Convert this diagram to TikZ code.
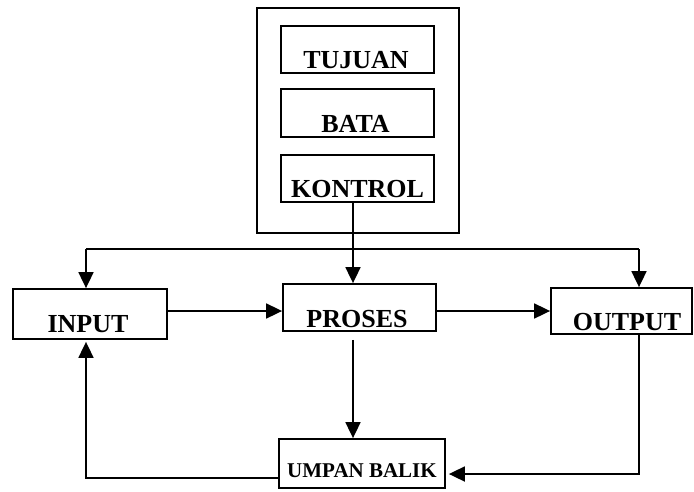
\documentclass[tikz,border=0pt]{standalone}
\usepackage{fontspec}
\setmainfont{Liberation Serif}
\usetikzlibrary{arrows.meta,calc}
\begin{document}
\begin{tikzpicture}[x=1pt,y=-1pt,
  box/.style={draw,line width=1.8pt,inner sep=0pt,rectangle},
  lbl/.style={font=\fontsize{26}{30}\selectfont\bfseries,inner sep=0pt,anchor=base},
  lblsmall/.style={font=\fontsize{21}{25}\selectfont\bfseries,inner sep=0pt,anchor=base},
  con/.style={line width=1.8pt},
  arr/.style={line width=1.8pt,-{Triangle[length=16pt,width=15pt]}}]
\useasboundingbox (0,0) rectangle (694,491);
% boxes
\node[box,minimum width=202pt,minimum height=225pt] (outer) at (358,120.5) {};
\node[box,minimum width=153pt,minimum height=47pt] (tuj) at (357.5,49.5) {};
\node[box,minimum width=153pt,minimum height=48pt] (bat) at (357.5,113) {};
\node[box,minimum width=153pt,minimum height=47pt] (kon) at (357.5,178.5) {};
\node[box,minimum width=154pt,minimum height=50pt] (inp) at (90,314) {};
\node[box,minimum width=153pt,minimum height=47pt] (pro) at (359.5,307.5) {};
\node[box,minimum width=141pt,minimum height=46pt] (out) at (621.5,311) {};
\node[box,minimum width=166pt,minimum height=49pt] (umb) at (362,463.5) {};
% labels
\node[lbl] (tTuj) at (356,68) {TUJUAN};
\node[lbl] (tBat) at (355.5,132) {BATA};
\node[lbl] (tKon) at (357.5,197) {KONTROL};
\node[lbl] (tInp) at (88,332) {INPUT};
\node[lbl] (tPro) at (357,327) {PROSES};
\node[lbl] (tOut) at (627,330) {OUTPUT};
\node[lblsmall] (tUmb) at (362,477) {UMPAN BALIK};
% helper coordinates
\coordinate (cx) at (353,249);
\coordinate (busL) at (86,249);
\coordinate (busR) at (639,249);
\coordinate (midy) at (0,311);
\coordinate (rety) at (0,474);
\coordinate (fby) at (0,478);
% connectors
\draw[arr] (kon.south -| cx) -- (pro.north -| cx);
\draw[con] (busL) -- (busR);
\draw[arr] (busL) -- (inp.north -| busL);
\draw[arr] (busR) -- (out.north -| busR);
\draw[arr] (inp.east |- midy) -- (pro.west |- midy);
\draw[arr] (pro.east |- midy) -- (out.west |- midy);
\draw[arr] ([yshift=-8pt]pro.south -| cx) -- (umb.north -| cx);
\draw[arr] (out.south -| busR) |- ([xshift=3pt]umb.east |- rety);
\draw[arr] (umb.west |- fby) -| ([yshift=-2pt]inp.south -| busL);
\end{tikzpicture}
\end{document}
